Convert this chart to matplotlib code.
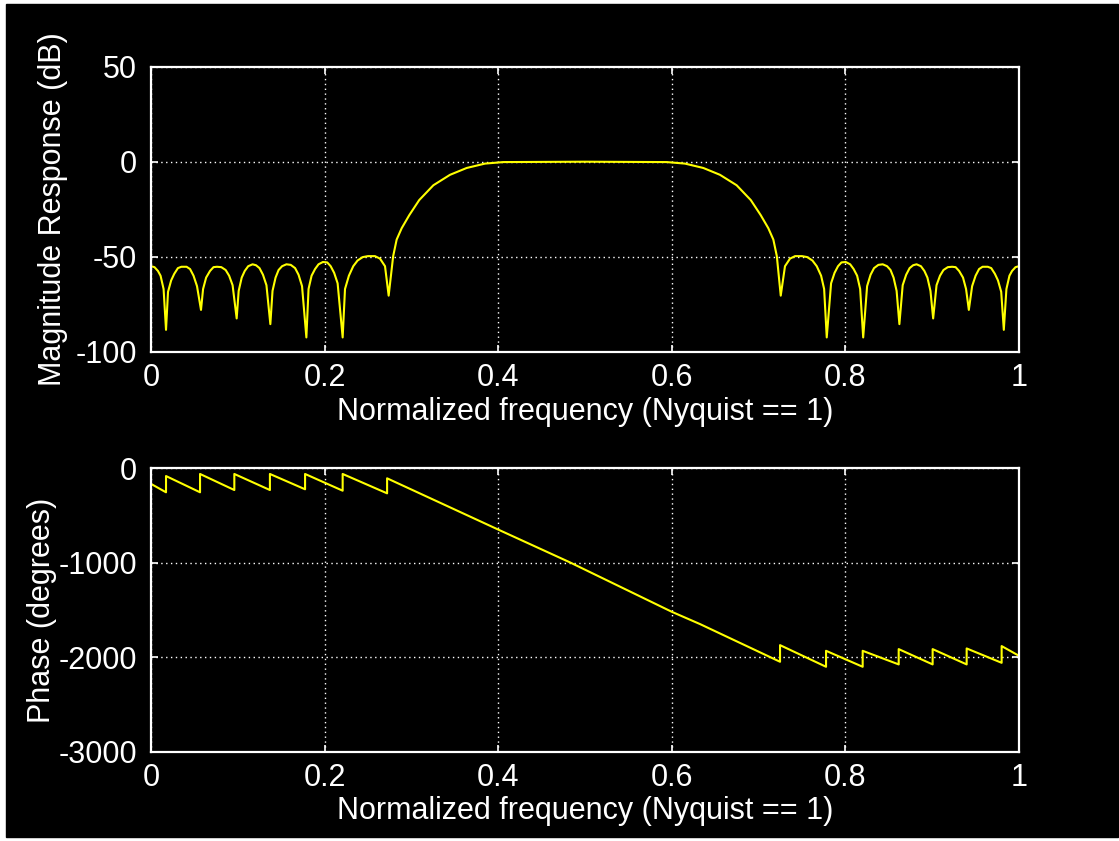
import matplotlib
matplotlib.use("Agg")
import matplotlib.pyplot as plt
from matplotlib.patches import Rectangle

# -------- Data --------
# magnitude response (normalized frequency, dB)
mag_freq = [
    0.000, 0.004, 0.008, 0.011, 0.0145, 0.0173,
    0.0196, 0.0232, 0.0268, 0.031, 0.035, 0.041, 0.045, 0.049, 0.053, 0.0576,
    0.060, 0.0635, 0.068, 0.072, 0.076, 0.081, 0.086, 0.090, 0.094, 0.0987,
    0.101, 0.1045, 0.108, 0.112, 0.117, 0.121, 0.125, 0.129, 0.133, 0.1375,
    0.140, 0.1435, 0.147, 0.151, 0.156, 0.161, 0.166, 0.170, 0.174, 0.179,
    0.1815, 0.185, 0.189, 0.193, 0.198, 0.203, 0.207, 0.211, 0.215, 0.2208,
    0.2235, 0.228, 0.233, 0.238, 0.244, 0.250, 0.258, 0.2638, 0.2696, 0.2738,
    0.279, 0.283, 0.2888, 0.2976, 0.309, 0.3253, 0.3445, 0.3637, 0.3848, 0.4059,
    0.500,
    0.5942, 0.6152, 0.6363, 0.6555, 0.6747, 0.691, 0.7024, 0.7112, 0.717, 0.721,
    0.7255, 0.7304, 0.7362, 0.742, 0.750, 0.756, 0.762, 0.767, 0.772, 0.7755,
    0.7785, 0.7835, 0.7875, 0.7915, 0.7955, 0.8005, 0.8055, 0.8095, 0.8135, 0.817,
    0.8205, 0.825, 0.829, 0.833, 0.838, 0.843, 0.848, 0.852, 0.8555, 0.859,
    0.8622, 0.866, 0.870, 0.874, 0.878, 0.882, 0.887, 0.891, 0.8945, 0.898,
    0.9011, 0.905, 0.909, 0.913, 0.918, 0.923, 0.927, 0.931, 0.9355, 0.939,
    0.9422, 0.946, 0.950, 0.954, 0.958, 0.964, 0.968, 0.9722, 0.9758, 0.9795,
    0.9825, 0.9855, 0.989, 0.992, 0.996, 1.000,
]
mag_db = [
    -55.0, -55.5, -57.5, -60.0, -67.0, -88.5,
    -68.5, -62.5, -59.0, -56.0, -55.3, -55.3, -56.5, -60.0, -65.5, -78.0,
    -67.0, -61.0, -57.5, -55.5, -55.3, -55.5, -57.0, -60.0, -65.0, -82.5,
    -68.0, -61.0, -57.5, -55.0, -54.0, -54.5, -56.0, -59.5, -65.0, -85.5,
    -68.0, -61.0, -57.0, -55.0, -54.0, -54.3, -56.0, -59.5, -65.5, -92.5,
    -67.0, -60.0, -56.5, -54.0, -52.8, -53.0, -55.0, -58.5, -64.0, -92.5,
    -67.0, -60.0, -55.0, -52.0, -50.2, -49.7, -49.7, -51.0, -55.0, -70.5,
    -49.7, -41.0, -35.0, -28.1, -20.2, -12.4, -6.9, -3.3, -1.0, -0.2,
    0.0,
    -0.2, -1.0, -3.3, -6.9, -12.4, -20.2, -28.1, -35.0, -41.0, -49.7,
    -70.5, -55.0, -51.0, -49.7, -49.7, -50.2, -52.0, -55.0, -60.0, -67.0,
    -92.5, -64.0, -58.5, -55.0, -53.0, -52.8, -54.0, -56.5, -60.0, -67.0,
    -92.5, -65.5, -59.5, -56.0, -54.3, -54.0, -55.0, -57.0, -61.0, -68.0,
    -85.5, -65.0, -59.5, -56.0, -54.5, -54.0, -55.0, -57.5, -61.0, -68.0,
    -82.5, -65.0, -60.0, -57.0, -55.5, -55.3, -55.5, -57.5, -61.0, -67.0,
    -78.0, -65.5, -60.0, -56.5, -55.3, -55.3, -56.0, -59.0, -62.5, -68.5,
    -88.5, -67.0, -60.0, -57.5, -55.5, -55.0,
]

# phase response (normalized frequency, degrees); repeated frequencies are the jumps
phase_freq = [
    0.000, 0.0173, 0.0173, 0.0565, 0.0565, 0.096, 0.096, 0.137, 0.137,
    0.1775, 0.1775, 0.2208, 0.2208, 0.272, 0.272,
    0.3994, 0.4827, 0.600, 0.6325,
    0.7247, 0.7247, 0.7777, 0.7777, 0.8199, 0.8199, 0.8614, 0.8614,
    0.9005, 0.9005, 0.9397, 0.9397, 0.980, 0.980, 1.000,
]
phase_deg = [
    -165, -254, -82, -254, -60, -230, -60, -230, -60,
    -222, -60, -237, -60, -265, -106,
    -646, -996, -1519, -1649,
    -2048, -1872, -2101, -1932, -2101, -1932, -2076, -1914,
    -2076, -1914, -2076, -1907, -2059, -1882, -1985,
]

x_ticks = [0, 0.2, 0.4, 0.6, 0.8, 1]
x_ticklabels = ["0", "0.2", "0.4", "0.6", "0.8", "1"]
mag_ticks = [-100, -50, 0, 50]
phase_ticks = [-3000, -2000, -1000, 0]

XLABEL = "Normalized frequency (Nyquist == 1)"

# -------- Style --------
plt.rcParams["font.family"] = ["Liberation Sans", "DejaVu Sans"]
plt.rcParams["font.size"] = 22
plt.rcParams["axes.unicode_minus"] = False

W, H = 1119, 841
fig = plt.figure(figsize=(W / 100, H / 100), dpi=100, facecolor="white")
# black panel with a thin white frame around it
fig.add_artist(Rectangle((6 / W, 4 / H), 1112 / W, 833 / H,
                         transform=fig.transFigure, color="black", zorder=-10))

left, width = 151 / W, 868 / W
ax1 = fig.add_axes([left, 1 - 351.7 / H, width, 285 / H])
ax2 = fig.add_axes([left, 1 - 751.7 / H, width, 283.4 / H])


def style_axes(ax, yticks, ylabel, ylabel_x):
    ax.set_facecolor("black")
    for sp in ax.spines.values():
        sp.set_color("white")
        sp.set_linewidth(1.6)
    ax.set_xlim(0, 1)
    ax.set_xticks(x_ticks)
    ax.set_xticklabels(x_ticklabels)
    ax.set_yticks(yticks)
    ax.set_ylim(yticks[0], yticks[-1])
    ax.tick_params(colors="white", direction="in", length=5, width=1.2,
                   labelsize=22, top=True, right=True)
    ax.tick_params(axis="x", pad=8)
    ax.tick_params(axis="y", pad=10)
    ax.grid(True, color="white", linestyle=(0, (1, 2.5)), linewidth=1.0)
    ax.set_xlabel(XLABEL, color="white", fontsize=22, va="center")
    ax.xaxis.set_label_coords(0.5, -0.21)
    ax.set_ylabel(ylabel, color="white", fontsize=22, va="center")
    ax.yaxis.set_label_coords(ylabel_x, 0.5)


# -------- Magnitude --------
ax1.plot(mag_freq, mag_db, color="#ffff00", linewidth=1.5)
style_axes(ax1, mag_ticks, "Magnitude Response (dB)", -0.113)

# -------- Phase --------
ax2.plot(phase_freq, phase_deg, color="#ffff00", linewidth=1.5)
style_axes(ax2, phase_ticks, "Phase (degrees)", -0.125)

fig.savefig("out.png", dpi=100, facecolor=fig.get_facecolor())
